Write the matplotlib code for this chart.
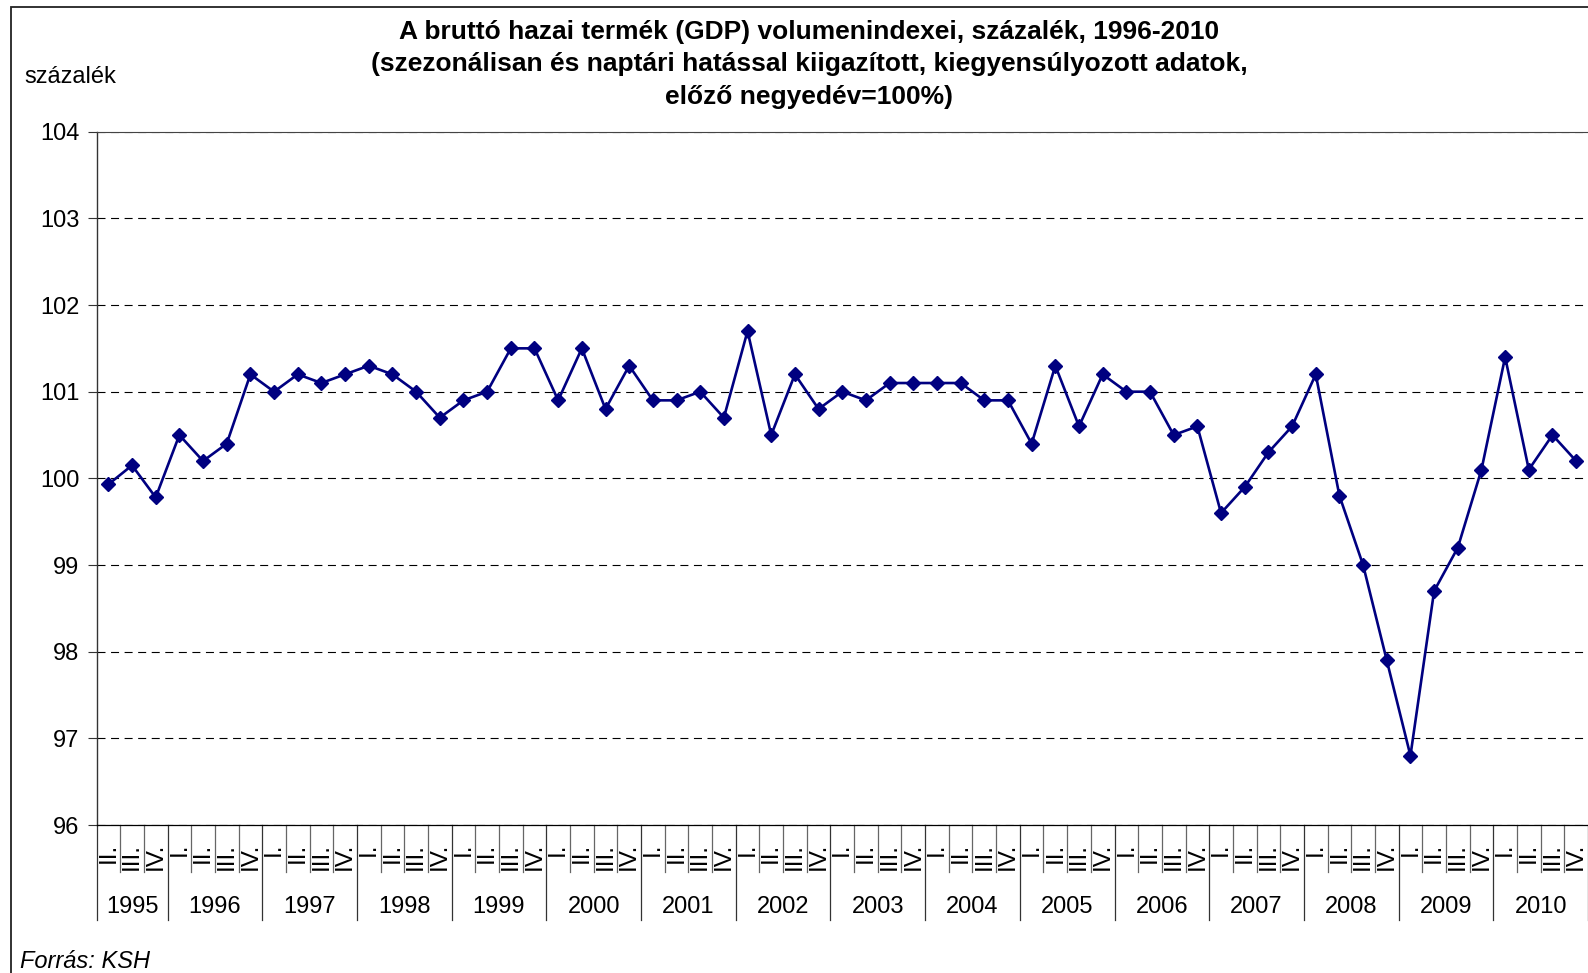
import matplotlib
matplotlib.use('Agg')
import matplotlib.pyplot as plt
from matplotlib.transforms import blended_transform_factory
from matplotlib.patches import Rectangle

plt.rcParams['font.family'] = ['Liberation Sans', 'DejaVu Sans']

years = ['1995', '1996', '1997', '1998', '1999', '2000', '2001', '2002',
         '2003', '2004', '2005', '2006', '2007', '2008', '2009', '2010']
first_year_quarters = ['II.', 'III.', 'IV.']
full_year_quarters = ['I.', 'II.', 'III.', 'IV.']

values = [
    99.93, 100.15, 99.78,                 # 1995
    100.5, 100.2, 100.4, 101.2,           # 1996
    101.0, 101.2, 101.1, 101.2,           # 1997
    101.3, 101.2, 101.0, 100.7,           # 1998
    100.9, 101.0, 101.5, 101.5,           # 1999
    100.9, 101.5, 100.8, 101.3,           # 2000
    100.9, 100.9, 101.0, 100.7,           # 2001
    101.7, 100.5, 101.2, 100.8,           # 2002
    101.0, 100.9, 101.1, 101.1,           # 2003
    101.1, 101.1, 100.9, 100.9,           # 2004
    100.4, 101.3, 100.6, 101.2,           # 2005
    101.0, 101.0, 100.5, 100.6,           # 2006
    99.6, 99.9, 100.3, 100.6,             # 2007
    101.2, 99.8, 99.0, 97.9,              # 2008
    96.8, 98.7, 99.2, 100.1,              # 2009
    101.4, 100.1, 100.5, 100.2,           # 2010
]

title = ("A bruttó hazai termék (GDP) volumenindexei, százalék, 1996-2010\n"
         "(szezonálisan és naptári hatással kiigazított, kiegyensúlyozott adatok,\n"
         "előző negyedév=100%)")

# build category structure
quarter_labels = []
year_spans = []
for y in years:
    qs = first_year_quarters if y == years[0] else full_year_quarters
    start = len(quarter_labels)
    quarter_labels.extend(qs)
    year_spans.append((y, start, len(quarter_labels)))
n = len(quarter_labels)

W, H = 1588, 973
fig = plt.figure(figsize=(W / 100, H / 100), dpi=100)
fig.patch.set_facecolor('white')

ax_left, ax_right = 96.5 / W, 1.0
ax_top, ax_bottom = 1 - 131.7 / H, 1 - 825 / H
ax = fig.add_axes([ax_left, ax_bottom, ax_right - ax_left, ax_top - ax_bottom])

x = list(range(n))
ax.plot(x, values, color='#000080', lw=1.9, marker='D', ms=6.8,
        mfc='#000080', mec='#000080', zorder=3)

ax.set_xlim(-0.5, n - 0.5)
ax.set_ylim(96, 104)
ax.set_yticks(range(96, 105))
ax.yaxis.grid(True, color='black', lw=0.8, linestyle=(0, (7.2, 5)))
ax.set_axisbelow(True)
ax.tick_params(axis='y', length=6.5, width=0.8, pad=6, labelsize=17,
               color='#333333', labelcolor='black')
ax.set_xticks([])

ax.spines['right'].set_visible(False)
ax.spines['top'].set_color('#444444')
ax.spines['top'].set_linewidth(0.8)
ax.spines['left'].set_color('#333333')
ax.spines['left'].set_linewidth(1.0)
ax.spines['bottom'].set_color('black')
ax.spines['bottom'].set_linewidth(0.9)

# category separators and labels
trans = blended_transform_factory(ax.transData, ax.transAxes)
axis_h = 825 - 131.7
short_y = -(872 - 825) / axis_h
long_y = -(920 - 825) / axis_h
qlab_y = -(843 - 825) / axis_h
ylab_y = -(907 - 825) / axis_h

year_bounds = set()
for _, s, e in year_spans:
    year_bounds.add(s)
    year_bounds.add(e)
for b in range(n + 1):
    if b in year_bounds:
        ax.plot([b - 0.5, b - 0.5], [0, long_y], transform=trans,
                color='#333333', lw=0.9, clip_on=False)
    else:
        ax.plot([b - 0.5, b - 0.5], [0, short_y], transform=trans,
                color='#666666', lw=0.9, clip_on=False)

for i, q in enumerate(quarter_labels):
    ax.text(i, qlab_y, q, transform=trans, rotation=90, ha='center',
            va='top', fontsize=17.5)

for y, s, e in year_spans:
    ax.text((s + e - 1) / 2, ylab_y, y, transform=trans, ha='center',
            va='center', fontsize=17)

# texts
fig.text(809 / W, 1 - 64.5 / H, title, ha='center', va='center',
         fontsize=19, fontweight='bold', linespacing=1.43, multialignment='center')
fig.text(24 / W, 1 - 77 / H, 'százalék', ha='left', va='center', fontsize=17)
fig.text(20 / W, 1 - 961 / H, 'Forrás: KSH', ha='left', va='center',
         fontsize=17, style='italic')

# outer chart border
fig.add_artist(Rectangle((11 / W, -0.05), 1.2, 1 - 7 / H + 0.05,
                         transform=fig.transFigure, fill=False,
                         ec='#222222', lw=1.3))

fig.savefig('out.png', dpi=100, facecolor='white')
